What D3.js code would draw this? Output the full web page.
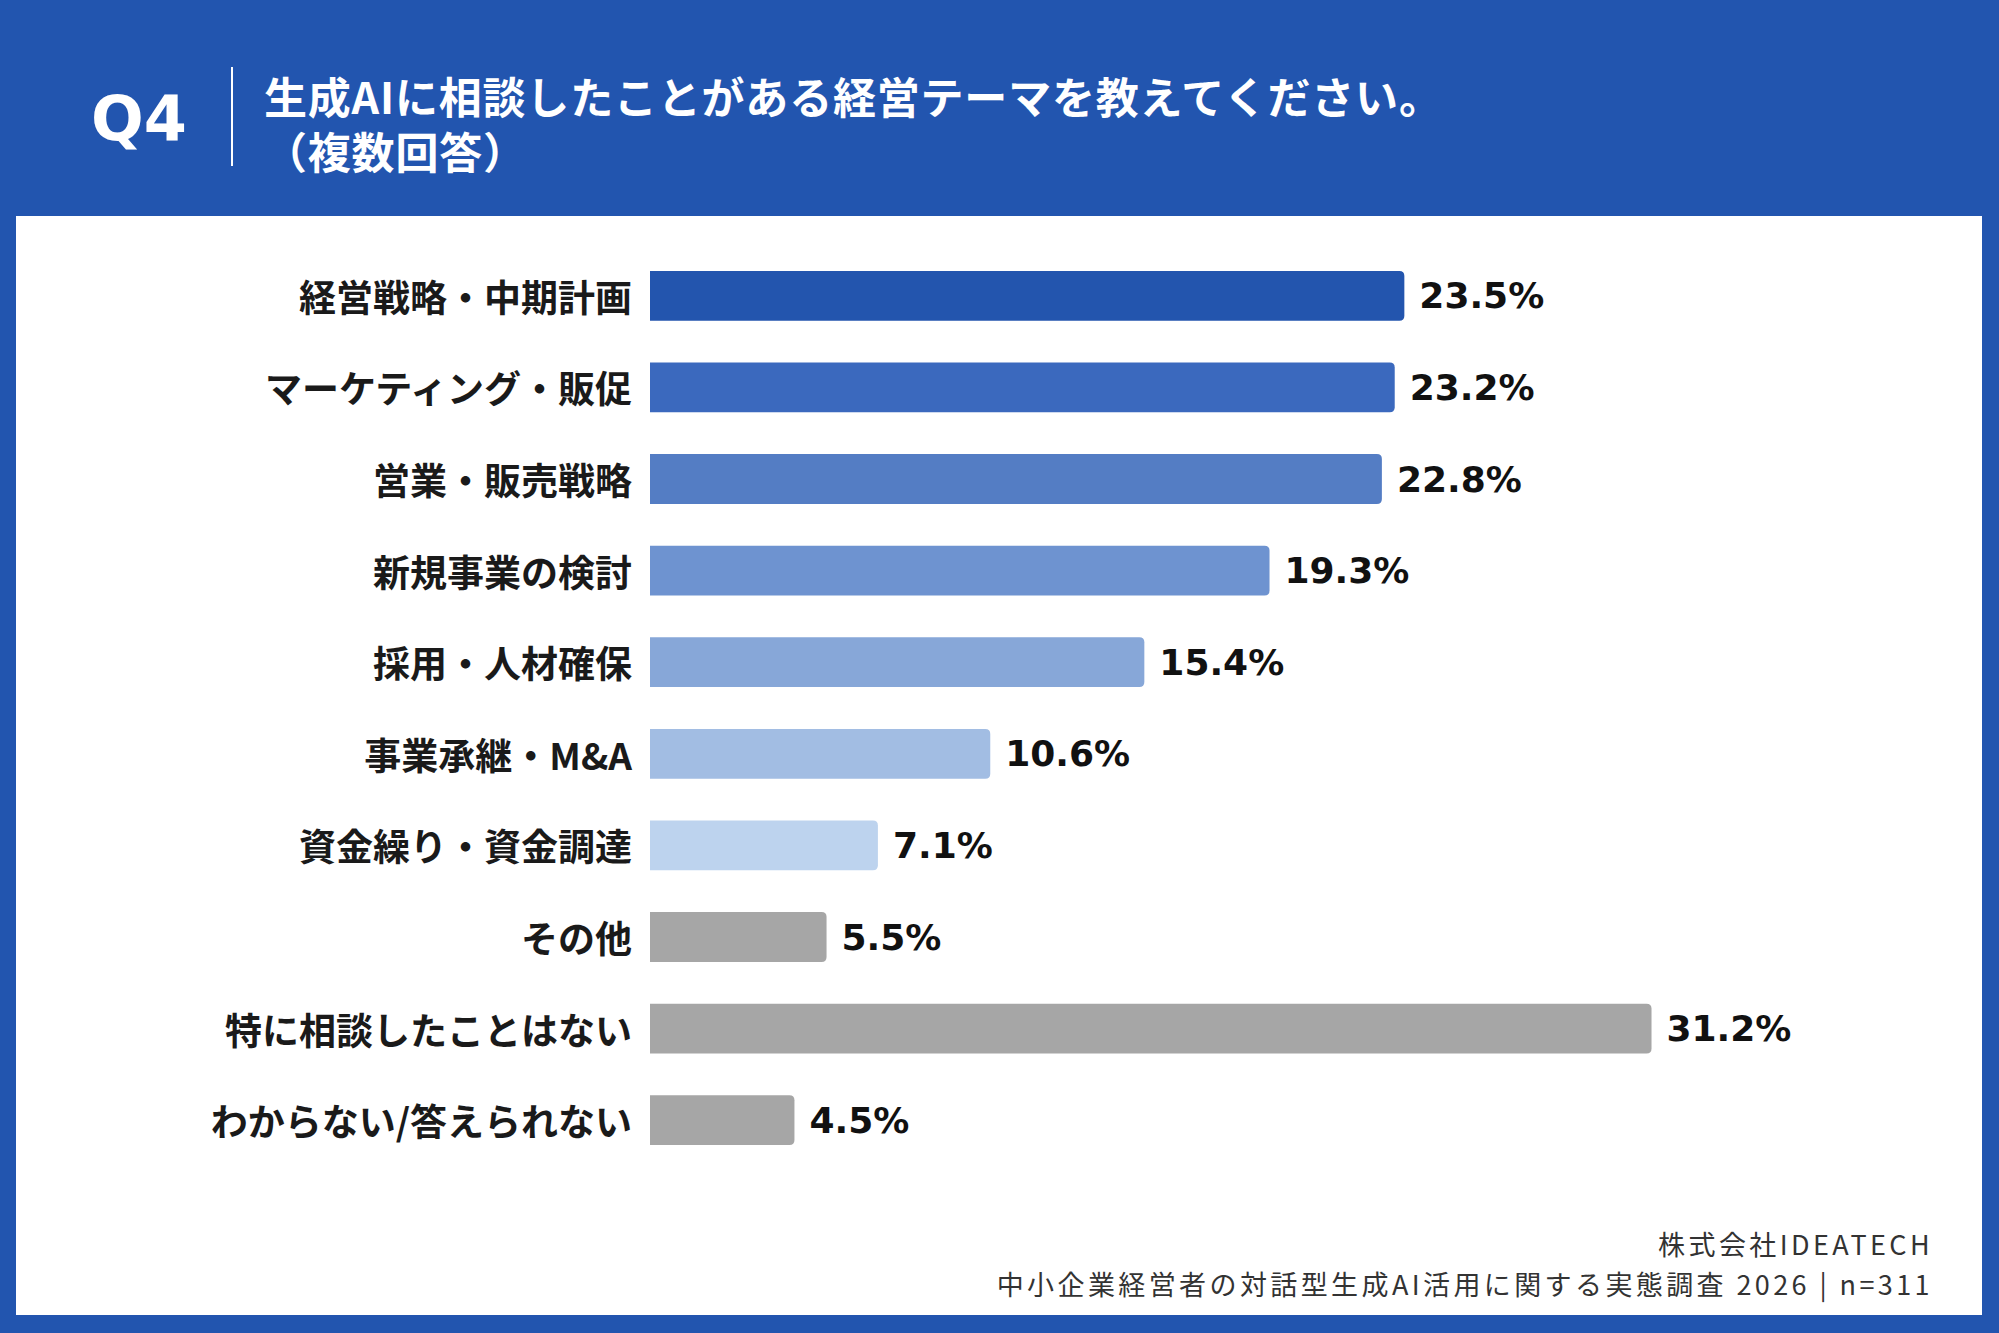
<!DOCTYPE html>
<html lang="ja">

<head>
    <meta charset="UTF-8" />
    <title>Q4 生成AIに相談したことがある経営テーマ</title>
    <script src="https://d3js.org/d3.v7.min.js"></script>
    <style>
        body {
            margin: 0;
            background: #2255af;
        }

        svg {
            display: block;
        }

        .jp {
            font-family: "Noto Sans CJK JP", "Noto Sans", sans-serif;
        }

        .num {
            font-family: "DejaVu Sans", "Noto Sans CJK JP", sans-serif;
            font-weight: bold;
        }
    </style>
</head>

<body>

    <div id="chart"></div>

    <script>
        // データ
        const categories = [
            "経営戦略・中期計画",
            "マーケティング・販促",
            "営業・販売戦略",
            "新規事業の検討",
            "採用・人材確保",
            "事業承継・M&A",
            "資金繰り・資金調達",
            "その他",
            "特に相談したことはない",
            "わからない/答えられない"
        ];
        const values = [23.5, 23.2, 22.8, 19.3, 15.4, 10.6, 7.1, 5.5, 31.2, 4.5];
        const barColors = [
            "#2355ae", "#3b69be", "#547dc4", "#6e93d0", "#87a7d8",
            "#a2bde3", "#bdd3ee", "#a6a6a6", "#a6a6a6", "#a6a6a6"
        ];

        const titleLines = ["生成AIに相談したことがある経営テーマを教えてください。", "（複数回答）"];
        const footerLines = ["株式会社IDEATECH", "中小企業経営者の対話型生成AI活用に関する実態調査 2026 | n=311"];

        const W = 1999, H = 1333;
        const blue = "#2255af";

        const svg = d3.select("#chart")
            .append("svg")
            .attr("width", W)
            .attr("height", H);

        // 背景とパネル
        svg.append("rect")
            .attr("width", W)
            .attr("height", H)
            .attr("fill", blue);

        svg.append("rect")
            .attr("x", 16)
            .attr("y", 216)
            .attr("width", 1966)
            .attr("height", 1099)
            .attr("fill", "#ffffff");

        // ヘッダー
        svg.append("text")
            .attr("class", "num")
            .attr("x", 91)
            .attr("y", 140)
            .attr("fill", "#ffffff")
            .style("font-size", "62px")
            .text("Q4");

        svg.append("line")
            .attr("x1", 232).attr("x2", 232)
            .attr("y1", 67).attr("y2", 166)
            .attr("stroke", "#ffffff")
            .attr("stroke-width", 2);

        // タイトル(2行を1つのtextに)
        const title = svg.append("text")
            .attr("class", "title jp")
            .attr("fill", "#ffffff")
            .style("font-size", "43px")
            .style("font-weight", "bold")
            .style("letter-spacing", "0.8px");

        title.selectAll("tspan")
            .data(titleLines)
            .enter().append("tspan")
            .attr("x", 264)
            .attr("y", (d, i) => 95 + i * 55)
            .attr("dominant-baseline", "central")
            .text(d => d);

        // スケール
        const x = d3.scaleLinear()
            .domain([0, 40])
            .range([650, 1934]);

        const y = d3.scaleBand()
            .domain(categories)
            .range([250, 1166])
            .paddingInner(0.456)
            .paddingOuter(0.228);

        const data = categories.map((c, i) => ({ cat: c, val: values[i], color: barColors[i] }));

        // バー(右側だけ角丸)
        const r = 5;
        function barPath(d) {
            const x0 = x(0), x1 = x(d.val), y0 = y(d.cat), h = y.bandwidth();
            return `M${x0},${y0}H${x1 - r}Q${x1},${y0} ${x1},${y0 + r}` +
                `V${y0 + h - r}Q${x1},${y0 + h} ${x1 - r},${y0 + h}H${x0}Z`;
        }

        svg.selectAll(".bar")
            .data(data)
            .enter().append("path")
            .attr("class", "bar")
            .attr("d", barPath)
            .attr("fill", d => d.color);

        // 項目ラベル
        svg.selectAll(".cat")
            .data(data)
            .enter().append("text")
            .attr("class", "cat jp")
            .attr("x", x(0) - 18)
            .attr("y", d => y(d.cat) + y.bandwidth() / 2)
            .attr("text-anchor", "end")
            .attr("dominant-baseline", "central")
            .attr("fill", "#1a1a1a")
            .style("font-size", "37px")
            .style("font-weight", "bold")
            .text(d => d.cat);

        // 数値ラベル
        svg.selectAll(".val")
            .data(data)
            .enter().append("text")
            .attr("class", "val num")
            .attr("x", d => x(d.val) + 15)
            .attr("y", d => y(d.cat) + y.bandwidth() / 2)
            .attr("dominant-baseline", "central")
            .attr("fill", "#111111")
            .style("font-size", "36px")
            .text(d => d.val.toFixed(1) + "%");

        // 出典
        const foot = svg.append("text")
            .attr("class", "foot jp")
            .attr("text-anchor", "end")
            .attr("fill", "#333333")
            .style("font-size", "27px")
            .style("letter-spacing", "3.4px");

        foot.selectAll("tspan")
            .data(footerLines)
            .enter().append("tspan")
            .attr("x", 1933)
            .attr("y", (d, i) => 1243 + i * 40)
            .attr("dominant-baseline", "central")
            .text(d => d);
    </script>

</body>

</html>
